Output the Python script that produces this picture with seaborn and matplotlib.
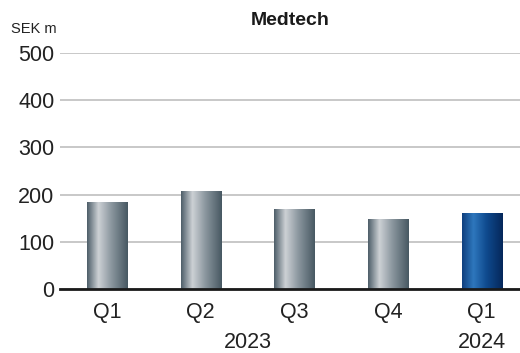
import numpy as np
import pandas as pd
import matplotlib
matplotlib.use("Agg")
import matplotlib.pyplot as plt
from matplotlib.colors import LinearSegmentedColormap
import seaborn as sns

# Quarterly figures, SEK m
quarters = ["Q1", "Q2", "Q3", "Q4", "Q1"]
period_ids = ["2023Q1", "2023Q2", "2023Q3", "2023Q4", "2024Q1"]
values = [185, 208, 169, 148, 162]
years = ["2023", "2024"]
year_positions = [1.5, 4]
y_ticks = [0, 100, 200, 300, 400, 500]

sns.set_theme(style="white")
plt.rcParams["font.family"] = ["Liberation Sans", "DejaVu Sans"]

df = pd.DataFrame({"period": period_ids, "value": values})

fig = plt.figure(figsize=(5.2, 3.53), dpi=100)
ax = fig.add_axes([0.1154, 0.1813, 0.8846, 0.6686])

sns.barplot(data=df, x="period", y="value", color="#7a8890", width=0.427,
            ax=ax, zorder=3)

# Cylinder-like shading for each bar
gray_cmap = LinearSegmentedColormap.from_list(
    "steel", [(0.0, "#4c5d68"), (0.28, "#cdd1d5"), (0.6, "#8a969e"), (1.0, "#475862")])
blue_cmap = LinearSegmentedColormap.from_list(
    "navy", [(0.0, "#0f3f7e"), (0.28, "#2e77bd"), (0.6, "#0f4a8e"), (1.0, "#05275a")])
grad = np.linspace(0, 1, 256).reshape(1, -1)
for i, patch in enumerate(ax.patches):
    x0, y0 = patch.get_x(), patch.get_y()
    w, h = patch.get_width(), patch.get_height()
    cmap = blue_cmap if i == len(ax.patches) - 1 else gray_cmap
    im = ax.imshow(grad, cmap=cmap, aspect="auto", extent=(x0, x0 + w, y0, y0 + h),
                   zorder=3, interpolation="bilinear")
    im.set_clip_path(patch)
    patch.set_facecolor("none")
    patch.set_edgecolor("none")

ax.set_xlim(-0.5, 4.41)
ax.set_ylim(0, 500)
ax.set_yticks(y_ticks)
ax.set_yticklabels([str(t) for t in y_ticks], fontsize=15.5, color="#222222")
ax.set_xticks(range(len(quarters)))
ax.set_xticklabels(quarters, fontsize=15.5, color="#222222")
ax.tick_params(axis="both", length=0)
ax.tick_params(axis="y", pad=4)
ax.tick_params(axis="x", pad=9)
ax.set_xlabel("")
ax.set_ylabel("")

ax.yaxis.grid(True, color="#c8c8c8", linewidth=1.4, zorder=0)
ax.set_axisbelow(True)
for side in ["left", "right", "top"]:
    ax.spines[side].set_visible(False)
ax.spines["bottom"].set_color("#1a1a1a")
ax.spines["bottom"].set_linewidth(2)
ax.spines["bottom"].set_zorder(4)

trans = ax.get_xaxis_transform()
for yr, pos in zip(years, year_positions):
    ax.text(pos, -0.225, yr, transform=trans, ha="center", va="center",
            fontsize=15.5, color="#222222")

fig.text(0.021, 0.919, "SEK m", fontsize=10.5, color="#222222", ha="left", va="center")
fig.text(0.558, 0.943, "Medtech", fontsize=14, fontweight="bold",
         color="#1a1a1a", ha="center", va="center")

fig.savefig("out.png", dpi=100)
